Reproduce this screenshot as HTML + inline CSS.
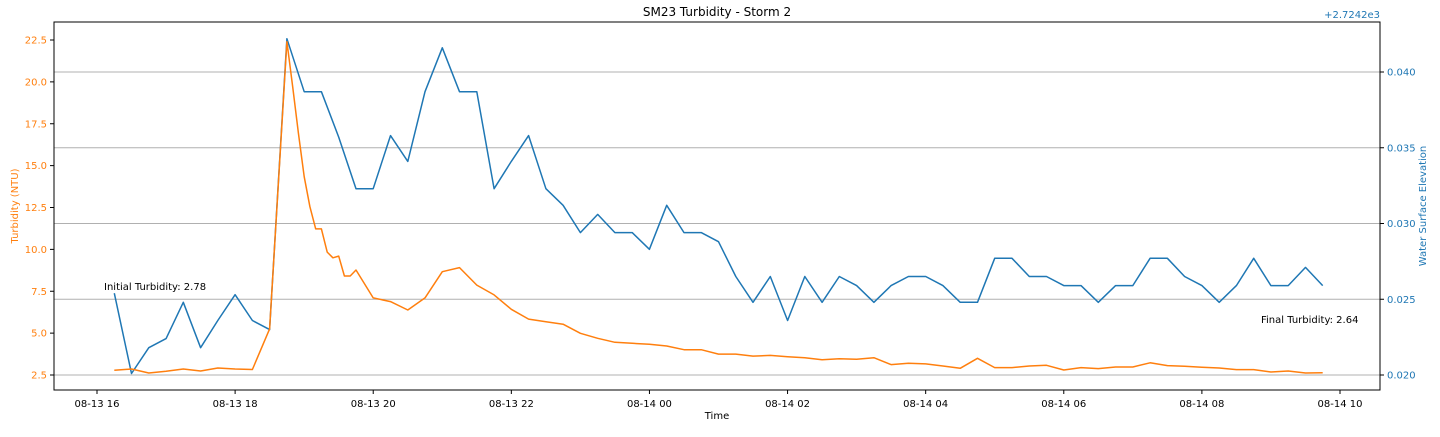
<!DOCTYPE html>
<html><head><meta charset="utf-8"><style>
body{margin:0;background:#fff;}
svg text{font-family:"DejaVu Sans","Liberation Sans",sans-serif;}
</style></head><body>
<svg id="c" width="1440" height="432" xmlns="http://www.w3.org/2000/svg"></svg>
<script>
const blueTimes=["16:15","16:30","16:45","17:00","17:15","17:30","17:45","18:00","18:15","18:30","18:45","19:00","19:15","19:30","19:45","20:00","20:15","20:30","20:45","21:00","21:15","21:30","21:45","22:00","22:15","22:30","22:45","23:00","23:15","23:30","23:45","+00:00","+00:15","+00:30","+00:45","+01:00","+01:15","+01:30","+01:45","+02:00","+02:15","+02:30","+02:45","+03:00","+03:15","+03:30","+03:45","+04:00","+04:15","+04:30","+04:45","+05:00","+05:15","+05:30","+05:45","+06:00","+06:15","+06:30","+06:45","+07:00","+07:15","+07:30","+07:45","+08:00","+08:15","+08:30","+08:45","+09:00","+09:15","+09:30","+09:45"];
const blueValues=[.0254,.0201,.0218,.0224,.0248,.0218,.0236,.0253,.0236,.0230,.0422,.0387,.0387,.0357,.0323,.0323,.0358,.0341,.0387,.0416,.0387,.0387,.0323,.0341,.0358,.0323,.0312,.0294,.0306,.0294,.0294,.0283,.0312,.0294,.0294,.0288,.0265,.0248,.0265,.0236,.0265,.0248,.0265,.0259,.0248,.0259,.0265,.0265,.0259,.0248,.0248,.0277,.0277,.0265,.0265,.0259,.0259,.0248,.0259,.0259,.0277,.0277,.0265,.0259,.0248,.0259,.0277,.0259,.0259,.0271,.0259];
const orangeTimes=["16:15","16:30","16:45","17:00","17:15","17:30","17:45","18:00","18:15","18:30","18:45","18:50","18:55","19:00","19:05","19:10","19:15","19:20","19:25","19:30","19:35","19:40","19:45","20:00","20:15","20:30","20:45","21:00","21:15","21:30","21:45","22:00","22:15","22:30","22:45","23:00","23:15","23:30","23:45","+00:00","+00:15","+00:30","+00:45","+01:00","+01:15","+01:30","+01:45","+02:00","+02:15","+02:30","+02:45","+03:00","+03:15","+03:30","+03:45","+04:00","+04:15","+04:30","+04:45","+05:00","+05:15","+05:30","+05:45","+06:00","+06:15","+06:30","+06:45","+07:00","+07:15","+07:30","+07:45","+08:00","+08:15","+08:30","+08:45","+09:00","+09:15","+09:30","+09:45"];
const orangeValues=[2.78,2.86,2.62,2.72,2.86,2.74,2.92,2.86,2.83,5.25,22.4,19.7,16.94,14.34,12.55,11.22,11.22,9.84,9.5,9.6,8.41,8.41,8.77,7.1,6.88,6.38,7.1,8.67,8.91,7.87,7.28,6.42,5.84,5.68,5.53,4.99,4.69,4.45,4.39,4.33,4.23,4.01,4.01,3.75,3.75,3.63,3.67,3.59,3.53,3.41,3.47,3.44,3.53,3.12,3.2,3.16,3.04,2.9,3.5,2.94,2.94,3.04,3.08,2.8,2.94,2.88,2.98,2.98,3.23,3.06,3.02,2.96,2.92,2.82,2.82,2.68,2.74,2.62,2.64];
const xTickLabels=["08-13 16","08-13 18","08-13 20","08-13 22","08-14 00","08-14 02","08-14 04","08-14 06","08-14 08","08-14 10"];
const leftTicks=[2.5,5.0,7.5,10.0,12.5,15.0,17.5,20.0,22.5];
const rightTicks=[0.020,0.025,0.030,0.035,0.040];

const NS="http://www.w3.org/2000/svg", svg=document.getElementById('c');
const L=54,R=1380,T=22,B=390;
function mins(s){let d=0;if(s[0]==='+'){d=1440;s=s.slice(1);}const p=s.split(':');return d+(+p[0])*60+(+p[1]);}
function xS(m){return 97+(m-960)*(1243/1080);}
function yL(v){return 375-(v-2.5)*(335/20);}
function yR(v){return 375-(v-0.020)*(303/0.020);}
function el(t,a,txt){const e=document.createElementNS(NS,t);for(const k in a)e.setAttribute(k,a[k]);if(txt!=null)e.textContent=txt;svg.appendChild(e);return e;}
let e;
// gridlines
rightTicks.forEach(v=>{e=el('line',{x1:L,x2:R,y1:yR(v),y2:yR(v),stroke:'#b0b0b0','stroke-width':1});

});
// series
let pts=blueTimes.map((t,i)=>xS(mins(t)).toFixed(1)+','+yR(blueValues[i]).toFixed(1)).join(' ');
e=el('polyline',{points:pts,fill:'none',stroke:'#1f77b4','stroke-width':1.5,'stroke-linejoin':'round'});


pts=orangeTimes.map((t,i)=>xS(mins(t)).toFixed(1)+','+yL(orangeValues[i]).toFixed(1)).join(' ');
e=el('polyline',{points:pts,fill:'none',stroke:'#ff7f0e','stroke-width':1.5,'stroke-linejoin':'round'});


// frame
e=el('rect',{x:L,y:T,width:R-L,height:B-T,fill:'none',stroke:'#000','stroke-width':1});


// x ticks
xTickLabels.forEach((s,i)=>{const x=xS(960+i*120);
el('line',{x1:x,x2:x,y1:B,y2:B+4,stroke:'#000'});
e=el('text',{x:x,y:B+17,'font-size':10,'text-anchor':'middle',fill:'#000'},s);

});
leftTicks.forEach(v=>{const y=yL(v);
el('line',{x1:L-4,x2:L,y1:y,y2:y,stroke:'#000'});
e=el('text',{x:L-7,y:y+3.5,'font-size':10,'text-anchor':'end',fill:'#ff7f0e'},v.toFixed(1));

});
rightTicks.forEach(v=>{const y=yR(v);
el('line',{x1:R,x2:R+4,y1:y,y2:y,stroke:'#000'});
e=el('text',{x:R+7,y:y+3.5,'font-size':10,'text-anchor':'start',fill:'#1f77b4'},v.toFixed(3));

});
e=el('text',{x:1380,y:18,'font-size':10,'text-anchor':'end',fill:'#1f77b4'},'+2.7242e3');


e=el('text',{x:717,y:16,'font-size':12,'text-anchor':'middle',fill:'#000'},'SM23 Turbidity - Storm 2');


e=el('text',{x:717,y:419,'font-size':10,'text-anchor':'middle',fill:'#000'},'Time');


e=el('text',{x:0,y:0,'font-size':10,'text-anchor':'middle',fill:'#ff7f0e',transform:'translate(18,206) rotate(-90)'},'Turbidity (NTU)');


e=el('text',{x:0,y:0,'font-size':10,'text-anchor':'middle',fill:'#1f77b4',transform:'translate(1426,206) rotate(-90)'},'Water Surface Elevation');


e=el('text',{x:104,y:290,'font-size':10,fill:'#000'},'Initial Turbidity: '+orangeValues[0].toFixed(2));


e=el('text',{x:1261,y:323,'font-size':10,fill:'#000'},'Final Turbidity: '+orangeValues[orangeValues.length-1].toFixed(2));


</script>
</body></html>
